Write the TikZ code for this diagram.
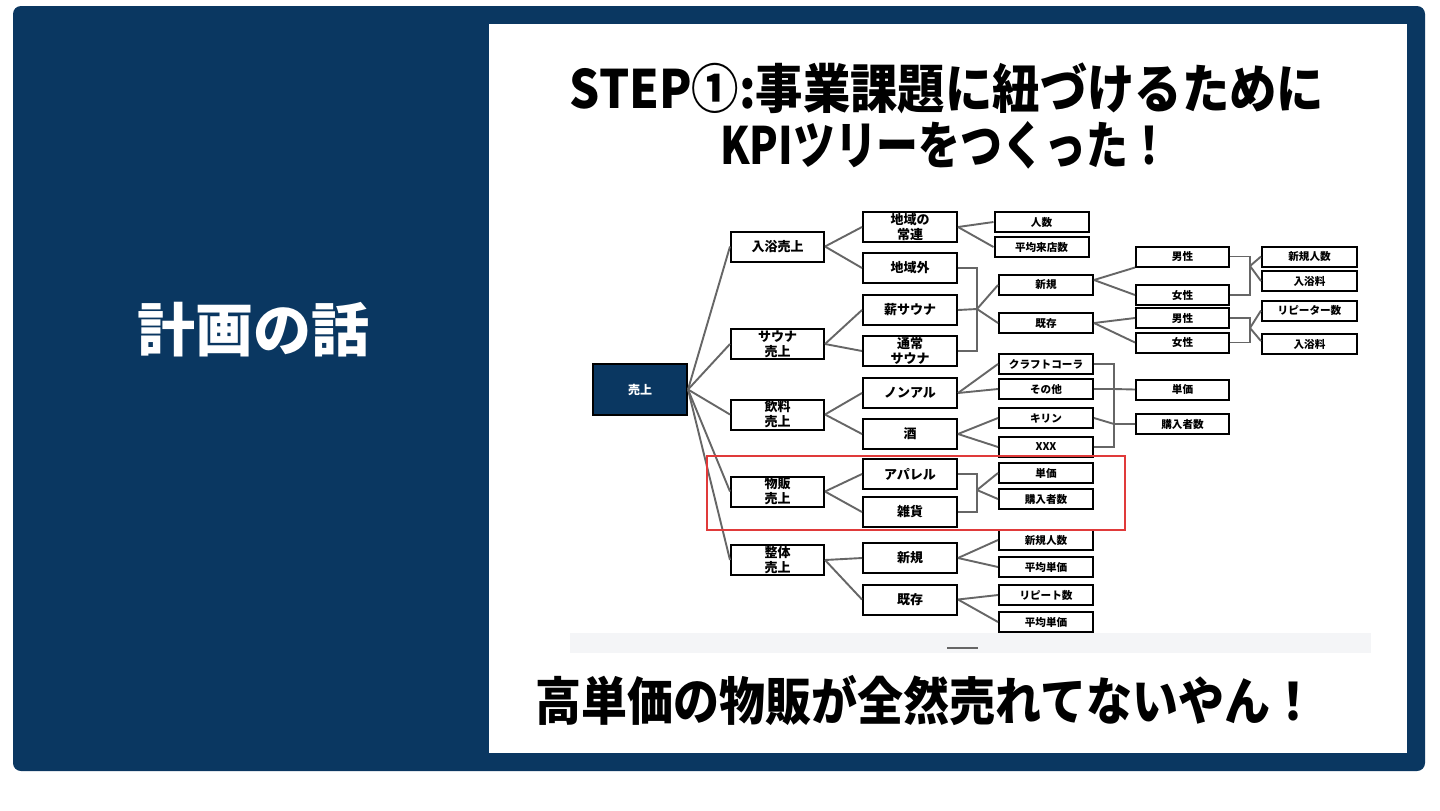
\documentclass[tikz,border=0pt]{standalone}
\usepackage{fontspec}
\setmainfont{Noto Sans CJK JP}
\usetikzlibrary{calc}
\definecolor{navy}{HTML}{0A3761}
\definecolor{conn}{HTML}{666666}
\definecolor{redbox}{HTML}{E03A3A}
\definecolor{strip}{HTML}{F4F5F7}
\begin{document}
\begin{tikzpicture}[x=0.5pt,y=-0.5pt,
  bx/.style={draw=black, line width=1pt, fill=white, inner sep=0pt, align=center},
  big/.style={bx, font=\fontsize{6.5pt}{7.5pt}\selectfont\bfseries, minimum height=15pt},
  sml/.style={bx, font=\fontsize{5.3pt}{6pt}\selectfont\bfseries, minimum height=10pt},
  lA/.style={big, minimum width=46.5pt},
  lB/.style={big, minimum width=47pt},
  lC/.style={sml, minimum width=47pt},
  lD/.style={sml, minimum width=46.5pt},
  lE/.style={sml, minimum width=47.5pt},
  conn/.style={draw=conn, line width=0.95pt},
  title/.style={font=\fontsize{23pt}{27pt}\selectfont\bfseries, inner sep=0pt}
]
\useasboundingbox (0,0) rectangle (1440,810);
\fill[white] (0,0) rectangle (1440,810);
\fill[navy, rounded corners=4pt] (13,6) rectangle (1425,771);
\fill[white] (489,24) rectangle (1407,753);

% left label
\node[font=\fontsize{29pt}{32pt}\selectfont\bfseries, text=white, inner sep=0pt] (lbl) at (253,330) {計画の話};

% titles
\node[title] (t1) at (947,88) {\scalebox{1.03}[1.15]{STEP①:事業課題に紐づけるために}};
\node[title] (t2) at (945,145) {\scalebox{0.91}[1.12]{KPIツリーをつくった！}};
\node[title] (t3) at (926,700) {\scalebox{1.0}[1.12]{高単価の物販が全然売れてないやん！}};

% strip
\fill[strip] (570,633) rectangle (1371,653);
\draw[draw=conn, line width=0.6pt] (947,648) -- (978,648);

% root
\node[bx, fill=navy, draw=black, minimum width=47pt, minimum height=25.5pt, text=white, font=\fontsize{6pt}{7pt}\selectfont\bfseries] (root) at (640,389.5) {売上};

% level 1
\node[lA] (a1) at (777.5,246.5) {入浴売上};
\node[lA] (a2) at (777.5,344) {サウナ\\売上};
\node[lA] (a3) at (777.5,414.5) {飲料\\売上};
\node[lA] (a4) at (777.5,491.5) {物販\\売上};
\node[lA] (a5) at (777.5,560) {整体\\売上};

% level 2
\node[lB] (b1) at (910,227) {地域の\\常連};
\node[lB] (b2) at (910,268) {地域外};
\node[lB] (b3) at (910,310) {薪サウナ};
\node[lB] (b4) at (910,351) {通常\\サウナ};
\node[lB] (b5) at (910,393) {ノンアル};
\node[lB] (b6) at (910,434) {酒};
\node[lB] (b7) at (910,474) {アパレル};
\node[lB] (b8) at (910,512) {雑貨};
\node[lB] (b9) at (910,558) {新規};
\node[lB] (b10) at (910,599.5) {既存};

% level 3
\node[lC] (c1) at (1041.5,222) {人数};
\node[lC] (c2) at (1041.5,247) {平均来店数};
\node[lC] (c3) at (1046,285) {新規};
\node[lC] (c4) at (1046,323) {既存};
\node[lC] (c5) at (1046,364) {クラフトコーラ};
\node[lC] (c6) at (1046,389) {その他};
\node[lC] (c7) at (1046,418) {キリン};
\node[lC] (c8) at (1046,447) {XXX};
\node[lC] (c9) at (1046,473) {単価};
\node[lC] (c10) at (1046,499) {購入者数};
\node[lC] (c11) at (1046,540) {新規人数};
\node[lC] (c12) at (1046,567) {平均単価};
\node[lC] (c13) at (1046,595) {リピート数};
\node[lC] (c14) at (1046,622) {平均単価};

% level 4
\node[lD] (d1) at (1182.5,256.5) {男性};
\node[lD] (d2) at (1182.5,295) {女性};
\node[lD] (d3) at (1182.5,318) {男性};
\node[lD] (d4) at (1182.5,342.5) {女性};
\node[lD] (d5) at (1182.5,389.5) {単価};
\node[lD] (d6) at (1182.5,424) {購入者数};

% level 5
\node[lE] (e1) at (1309.5,256.5) {新規人数};
\node[lE] (e2) at (1309.5,281) {入浴料};
\node[lE] (e3) at (1309.5,310.5) {リピーター数};
\node[lE] (e4) at (1309.5,344) {入浴料};

% junctions
\coordinate (k1) at (977,309);
\coordinate (k2) at (1250,266);
\coordinate (k3) at (1250,328);
\coordinate (k4) at (1114,389);
\coordinate (k5) at (1114,424);
\coordinate (k6) at (977,490);

% connectors
\foreach \t in {a1,a2,a3,a4,a5} \draw[conn] (root.east) -- (\t.west);
\draw[conn] (a1.east) -- (b1.west);
\draw[conn] (a1.east) -- (b2.west);
\draw[conn] (a2.east) -- (b3.west);
\draw[conn] (a2.east) -- (b4.west);
\draw[conn] (a3.east) -- (b5.west);
\draw[conn] (a3.east) -- (b6.west);
\draw[conn] (a4.east) -- (b7.west);
\draw[conn] (a4.east) -- (b8.west);
\draw[conn] (a5.east) -- (b9.west);
\draw[conn] (a5.east) -- (b10.west);

\draw[conn] (b1.east) -- (c1.west);
\draw[conn] (b1.east) -- (c2.west);
\draw[conn] (b2.east) -| (k1) |- (b4.east);
\draw[conn] (b3.east) -- (k1);
\draw[conn] (k1) -- (c3.west);
\draw[conn] (k1) -- (c4.west);

\draw[conn] ([yshift=2.5pt]c3.east) -- (d1.south west);
\draw[conn] ([yshift=2.5pt]c3.east) -- (d2.west);
\draw[conn] (c4.east) -- (d3.west);
\draw[conn] (c4.east) -- (d4.west);

\draw[conn] (d1.east) -| (k2) |- (d2.east);
\draw[conn] (k2) -- (e1.west);
\draw[conn] (k2) -- (e2.west);
\draw[conn] (d3.east) -| (k3) |- (d4.east);
\draw[conn] (k3) -- (e3.west);
\draw[conn] (k3) -- ([yshift=1.5pt]e4.west);

\draw[conn] (b5.east) -- (c5.west);
\draw[conn] (b5.east) -- (c6.west);
\draw[conn] (b6.east) -- (c7.west);
\draw[conn] (b6.east) -- (c8.west);
\draw[conn] (c5.east) -| (k4) -- (k5) |- (c8.east);
\draw[conn] (c6.east) -- (k4) -- (d5.west);
\draw[conn] (c7.east) -- (k5) -- (d6.west);

\draw[conn] (b7.east) -| (k6) |- (b8.east);
\draw[conn] (k6) -- (c9.west);
\draw[conn] (k6) -- (c10.west);
\draw[conn] (b9.east) -- (c11.west);
\draw[conn] (b9.east) -- (c12.west);
\draw[conn] (b10.east) -- (c13.west);
\draw[conn] (b10.east) -- (c14.west);

% highlight
\draw[draw=redbox, line width=0.8pt] (707,456) rectangle (1125,530);
\end{tikzpicture}
\end{document}
